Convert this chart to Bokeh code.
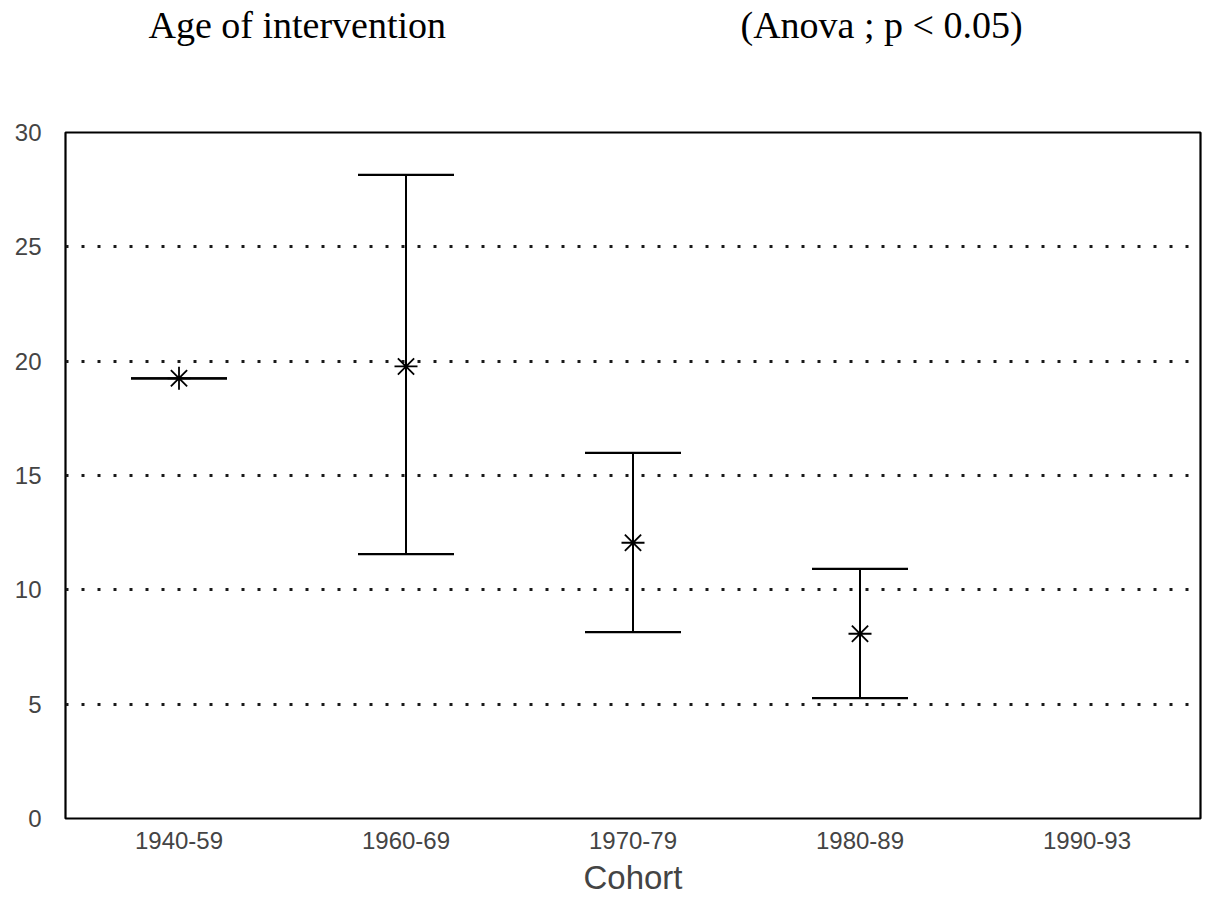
from bokeh.plotting import figure
from bokeh.models import (ColumnDataSource, FactorRange, Range1d, Whisker, TeeHead,
                          FixedTicker)
from bokeh.layouts import column
from bokeh.core.properties import value
from bokeh.embed import file_html
from bokeh.resources import INLINE

# ---- data ----
cohorts = ["1940-59", "1960-69", "1970-79", "1980-89", "1990-93"]
data_cohorts = ["1940-59", "1960-69", "1970-79", "1980-89"]
mean_age = [19.25, 19.77, 12.06, 8.08]
upper_age = [19.25, 28.15, 15.99, 10.92]
lower_age = [19.25, 11.56, 8.15, 5.26]
y_ticks = [0, 5, 10, 15, 20, 25, 30]
grid_values = [5, 10, 15, 20, 25]

title_texts = ["Age of intervention", "(Anova ; p < 0.05)"]
x_label = "Cohort"

# ---- header with the two title texts ----
head = figure(width=1204, height=100, output_backend="svg", toolbar_location=None,
              x_range=Range1d(65, 1200), y_range=Range1d(0, 100),
              min_border_left=65, min_border_right=4, min_border_top=0,
              min_border_bottom=0)
head.axis.visible = False
head.grid.visible = False
head.outline_line_color = None
head.background_fill_color = "white"
head.border_fill_color = "white"
head_src = ColumnDataSource(dict(x=[148, 740], y=[76, 76], t=title_texts))
head.text(x="x", y="y", text="t", source=head_src,
          text_font=value("Liberation Serif"), text_font_size="38px",
          text_color="black", text_baseline="alphabetic", text_align="left")

# ---- main chart ----
src = ColumnDataSource(dict(cohort=data_cohorts, mean=mean_age,
                            upper=upper_age, lower=lower_age))

p = figure(width=1204, height=810, output_backend="svg", toolbar_location=None,
           x_range=FactorRange(factors=cohorts, range_padding=0),
           y_range=Range1d(0, 30),
           min_border_left=65, min_border_right=4, min_border_top=32,
           min_border_bottom=92)

p.background_fill_color = "white"
p.border_fill_color = "white"
p.outline_line_color = "black"
p.outline_line_width = 2.2

for ax in (p.xaxis[0], p.yaxis[0]):
    ax.axis_line_color = None
    ax.major_tick_line_color = None
    ax.minor_tick_line_color = None
    ax.major_label_text_font = "Liberation Sans"
    ax.major_label_text_font_size = "24px"
    ax.major_label_text_color = "#444444"

p.yaxis.ticker = FixedTicker(ticks=y_ticks)
p.yaxis.major_label_standoff = 18
p.xaxis.major_label_standoff = 7
p.xaxis.axis_label = x_label
p.xaxis.axis_label_text_font = "Liberation Sans"
p.xaxis.axis_label_text_font_size = "33px"
p.xaxis.axis_label_text_font_style = "normal"
p.xaxis.axis_label_text_color = "#444444"
p.xaxis.axis_label_standoff = 7

p.xgrid.grid_line_color = None
p.ygrid.ticker = FixedTicker(ticks=grid_values)
p.ygrid.grid_line_color = "#1a1a1a"
p.ygrid.grid_line_width = 3
p.ygrid.grid_line_dash = "3 13"

w = Whisker(source=src, base="cohort", upper="upper", lower="lower",
            dimension="height", line_color="black", line_width=2,
            upper_head=TeeHead(size=96, line_color="black", line_width=2.2),
            lower_head=TeeHead(size=96, line_color="black", line_width=2.2))
p.add_layout(w)

p.scatter(x="cohort", y="mean", source=src, marker="asterisk", size=23,
          line_color="black", line_width=1.8)

layout = column(head, p, spacing=0)
open("out.html", "w").write(file_html(layout, INLINE))
